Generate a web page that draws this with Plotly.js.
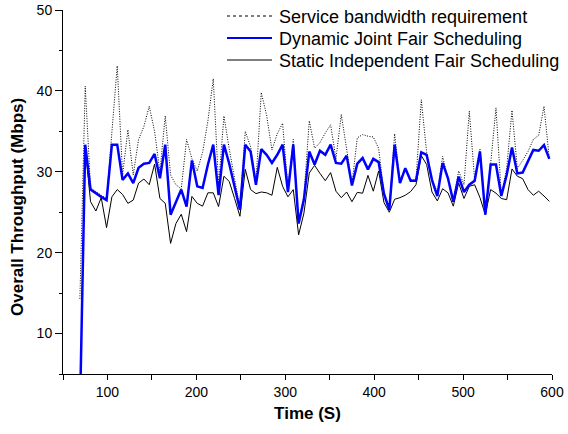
<!DOCTYPE html>
<html>
<head>
<meta charset="utf-8">
<script src="https://cdn.plot.ly/plotly-3.0.1.min.js"></script>
<style>html,body{margin:0;padding:0;background:#fff;}#chart{width:568px;height:434px;}</style>
</head>
<body>
<div id="chart"></div>
<script>
// Time (s) of each sample
var timeSec = [69, 75, 81, 87, 93, 99, 105, 111, 117, 123, 129, 135, 141, 147, 153, 159, 165, 171, 177, 183,
  189, 195, 201, 207, 213, 219, 225, 231, 237, 243, 249, 255, 261, 267, 273, 279, 285, 291, 297, 303,
  309, 315, 321, 327, 333, 339, 345, 351, 357, 363, 369, 375, 381, 387, 393, 399, 405, 411, 417, 423,
  429, 435, 441, 447, 453, 459, 465, 471, 477, 483, 489, 495, 501, 507, 513, 519, 525, 531, 537, 543,
  549, 555, 561, 567, 573, 579, 585, 591, 597];
var staticTime = [75, 81, 87, 93, 99, 105, 111, 117, 123, 129, 135, 141, 147, 153, 159, 165, 171, 177, 183,
  189, 195, 201, 207, 213, 219, 225, 231, 237, 243, 249, 255, 261, 267, 273, 279, 285, 291, 297, 303,
  309, 315, 321, 327, 333, 339, 345, 351, 357, 363, 369, 375, 381, 387, 393, 399, 405, 411, 417, 423,
  429, 435, 441, 447, 453, 459, 465, 471, 477, 483, 489, 495, 501, 507, 513, 519, 525, 531, 537, 543,
  549, 555, 561, 567, 573, 579, 585, 591, 597];

var serviceReq = [14.3, 40.6, 28.0, 27.5, 27.1, 26.7, 34.5, 43.1, 29.6, 35.2, 29.6, 34.0, 35.6, 38.1, 35.0,
  30.0, 36.9, 29.6, 28.4, 27.9, 34.0, 31.6, 30.1, 32.4, 36.3, 41.5, 28.3, 36.9, 32.8, 29.1, 25.5, 35.0,
  33.1, 28.7, 39.8, 37.0, 32.7, 34.7, 36.0, 28.0, 34.0, 23.7, 27.0, 36.3, 32.9, 33.6, 34.8, 35.8, 31.6,
  37.1, 33.0, 28.5, 34.2, 34.6, 34.4, 34.3, 32.9, 27.4, 25.5, 34.7, 28.7, 30.5, 29.0, 29.0, 38.9, 32.4,
  29.0, 27.5, 31.9, 29.3, 26.4, 30.1, 28.4, 37.5, 29.0, 32.8, 25.0, 31.0, 37.9, 27.1, 30.4, 37.6, 30.4,
  31.4, 32.5, 34.0, 34.5, 38.1, 31.6];

var dynamicJoint = [0, 33.35, 27.8, 27.3, 26.9, 26.5, 33.35, 33.35, 29.0, 29.8, 28.6,
  30.5, 31.0, 31.1, 32.2, 29.2, 33.35, 24.7, 26.3, 27.8, 25.7,
  31.4, 28.2, 28.0, 30.9, 33.35, 27.1, 33.35, 31.0, 28.2, 25.3,
  33.35, 32.5, 28.4, 32.8, 32.1, 31.1, 32.1, 33.35, 27.5, 33.35,
  23.6, 26.6, 32.5, 30.9, 32.6, 32.1, 33.35, 31.1, 31.0, 32.0,
  28.3, 31.0, 31.7, 30.3, 31.6, 31.2, 27.3, 25.3, 33.35, 28.6,
  30.45, 28.9, 28.9, 32.4, 32.1, 29.0, 27.0, 31.1, 29.2, 26.3,
  29.4, 27.5, 28.4, 28.9, 32.5, 24.7, 30.9, 30.9, 27.0, 29.6,
  33.0, 29.8, 29.9, 31.2, 32.7, 32.6, 33.3, 31.6];

var staticIndep = [33.0, 26.3, 25.15, 26.8, 23.1, 26.9, 27.8, 27.2, 26.1, 26.5,
  28.6, 29.1, 28.4, 30.95, 26.7, 26.1, 21.15, 23.6, 24.75, 22.6,
  26.95, 26.1, 25.75, 27.4, 27.4, 25.7, 29.45, 28.8, 26.7, 24.5,
  30.3, 27.8, 27.3, 27.5, 27.4, 27.1, 30.55, 28.2, 26.9, 27.8,
  22.2, 24.9, 29.85, 30.8, 29.8, 28.9, 29.9, 27.6, 26.8, 27.5,
  26.3, 27.45, 27.35, 29.55, 27.6, 30.1, 26.2, 25.0, 26.6, 26.8,
  27.1, 27.55, 28.4, 32.0, 30.9, 27.5, 26.4, 27.9, 27.4, 25.75,
  28.6, 26.7, 28.2, 28.4, 26.8, 24.7, 27.8, 27.35, 26.7, 26.55,
  30.35, 29.45, 29.15, 27.8, 27.1, 27.6, 27.0, 26.35];

var seriesNames = ['Service bandwidth requirement', 'Dynamic Joint Fair Scheduling', 'Static Independent Fair Scheduling'];
var yTitle = 'Overall Throughput (Mbps)';
var xTitle = 'Time (S)';

var FONT = 'Liberation Sans, Arial, sans-serif';
var W = 568, H = 434, ML = 63, MR = 16, MT = 10, MB = 60;
var PW = W - ML - MR, PH = H - MT - MB;
function px2x(p) { return (p - ML) / PW; }
function py2y(p) { return (H - MB - p) / PH; }

var traces = [
  {x: timeSec, y: serviceReq, type: 'scatter', mode: 'lines', name: seriesNames[0],
   line: {color: '#000', width: 1, dash: '1px,1.5px'}},
  {x: staticTime, y: staticIndep, type: 'scatter', mode: 'lines', name: seriesNames[2],
   line: {color: '#000', width: 1}},
  {x: timeSec, y: dynamicJoint, type: 'scatter', mode: 'lines', name: seriesNames[1],
   line: {color: '#0000ff', width: 2.5}}
];

var legendRows = [
  {y: 16, dash: 'dot', color: '#000', width: 1},
  {y: 38, dash: 'solid', color: '#0000ff', width: 2},
  {y: 60, dash: 'solid', color: '#000', width: 1}
];
var shapes = [], annotations = [];
legendRows.forEach(function (r, i) {
  shapes.push({type: 'line', xref: 'paper', yref: 'paper',
    x0: px2x(227), x1: px2x(272), y0: py2y(r.y), y1: py2y(r.y),
    line: {color: r.color, width: r.width, dash: r.dash}});
  annotations.push({xref: 'paper', yref: 'paper', x: px2x(277), y: py2y(r.y + 1),
    xanchor: 'left', yanchor: 'middle', showarrow: false, text: seriesNames[i],
    font: {family: FONT, size: 18, color: '#000'}});
});
annotations.push({xref: 'paper', yref: 'paper', x: px2x(17), y: py2y(207),
  xanchor: 'center', yanchor: 'middle', showarrow: false, textangle: -90, text: yTitle,
  font: {family: FONT, size: 17, color: '#000', weight: 'bold'}});

var layout = {
  width: W, height: H,
  margin: {l: ML, r: MR, t: MT, b: MB, pad: 0},
  paper_bgcolor: '#fff', plot_bgcolor: '#fff',
  showlegend: false,
  font: {family: FONT, color: '#000'},
  xaxis: {
    range: [50, 600], tick0: 0, dtick: 100, ticks: 'outside', ticklen: 5, tickwidth: 1, tickcolor: '#000',
    minor: {dtick: 50, ticks: 'outside', ticklen: 5, tickwidth: 1, tickcolor: '#000', showgrid: false},
    showline: true, linecolor: '#000', linewidth: 1, showgrid: false, zeroline: false,
    tickfont: {family: FONT, size: 14, color: '#000'},
    title: {text: xTitle, font: {family: FONT, size: 17, color: '#000', weight: 'bold'}, standoff: 8}
  },
  yaxis: {
    range: [5, 50], tick0: 0, dtick: 10, ticks: 'outside', ticklen: 7, tickwidth: 1, tickcolor: '#000',
    minor: {dtick: 5, ticks: 'outside', ticklen: 3, tickwidth: 1, tickcolor: '#000', showgrid: false},
    showline: true, linecolor: '#000', linewidth: 1, showgrid: false, zeroline: false,
    tickfont: {family: FONT, size: 14, color: '#000'}
  },
  shapes: shapes,
  annotations: annotations
};

Plotly.newPlot('chart', traces, layout, {staticPlot: true, displayModeBar: false});
</script>
</body>
</html>
